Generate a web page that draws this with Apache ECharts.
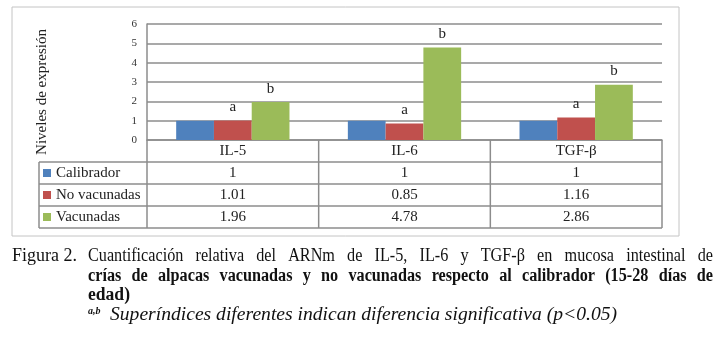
<!DOCTYPE html>
<html>
<head>
<meta charset="utf-8">
<script src="https://cdn.jsdelivr.net/npm/echarts@6/dist/echarts.min.js"></script>
<style>
  html, body { margin: 0; padding: 0; background: #fff; }
  #chart { width: 722px; height: 345px; }
</style>
</head>
<body>
<div id="chart"></div>
<script>
// datos
const categories = ['IL-5', 'IL-6', 'TGF-β']
const seriesNames = ['Calibrador', 'No vacunadas', 'Vacunadas']
const calibrador = [1, 1, 1]
const noVacunadas = [1.01, 0.85, 1.16]
const vacunadas = [1.96, 4.78, 2.86]
const letrasNoVac = ['a', 'a', 'a']
const letrasVac = ['b', 'b', 'b']
const yMin = 0
const yMax = 6
const yStep = 1
const yTitle = 'Niveles de expresión'
const captionLabel = 'Figura 2.'
const captionLine1 = 'Cuantificación relativa del ARNm de IL-5, IL-6 y TGF-β en mucosa intestinal de'
const captionLine2 = 'crías de alpacas vacunadas y no vacunadas respecto al calibrador (15-28 días de'
const captionLine3 = 'edad)'
const noteSup = 'a,b'
const noteText = 'Superíndices diferentes indican diferencia significativa (p<0.05)'

// colores y medidas
const colors = ['#4F81BD', '#C0504D', '#9BBB59']
const lineColor = '#8c8c8c'
const serif = 'Liberation Serif'
const plot = { left: 147, right: 662, top: 24, bottom: 140 }
const tableLeft = 39
const rowH = 22
const W = 722
const H = 345

const chart = echarts.init(document.getElementById('chart'))

const allSeries = [calibrador, noVacunadas, vacunadas]
const letters = [null, letrasNoVac, letrasVac]

// medir texto para el pie de figura (la imagen original esta algo comprimida en horizontal)
const ctx = document.createElement('canvas').getContext('2d')
const squeeze = 0.9
function justify(text, x0, x1, y, font, fill) {
  const words = text.split(' ')
  ctx.font = font
  const widths = words.map(w => ctx.measureText(w).width * squeeze)
  const total = widths.reduce((a, b) => a + b, 0)
  const gap = words.length > 1 ? (x1 - x0 - total) / (words.length - 1) : 0
  let x = x0
  return words.map((w, i) => {
    const el = {
      type: 'text', x: x, y: y, scaleX: squeeze, silent: true,
      style: { text: w, font: font, fill: fill, textVerticalAlign: 'middle' }
    }
    x += widths[i] + gap
    return el
  })
}
// texto estirado/comprimido para ocupar de x0 a x1
function fitText(text, x0, x1, y, font, fill) {
  ctx.font = font
  const w = ctx.measureText(text).width
  return {
    type: 'text', x: x0, y: y, scaleX: (x1 - x0) / w, silent: true,
    style: { text: text, font: font, fill: fill, textVerticalAlign: 'middle' }
  }
}

function line(x1, y1, x2, y2, color, width) {
  return {
    type: 'line', silent: true,
    shape: { x1: x1, y1: y1, x2: x2, y2: y2 },
    style: { stroke: color || lineColor, lineWidth: width || 1.5 }
  }
}

const graphics = []
// marco exterior
graphics.push({
  type: 'rect', silent: true,
  shape: { x: 12, y: 7, width: 667, height: 229 },
  style: { fill: 'none', stroke: '#c4c4c4', lineWidth: 1 }
})

// tabla de datos
const colW = (plot.right - plot.left) / categories.length
const headBottom = plot.bottom + rowH
const tableBottom = headBottom + rowH * seriesNames.length
graphics.push(line(plot.left, plot.bottom, plot.left, tableBottom))
for (let i = 1; i <= categories.length; i++) {
  const x = plot.left + colW * i
  graphics.push(line(x, plot.bottom, x, tableBottom))
}
graphics.push(line(tableLeft, headBottom, tableLeft, tableBottom))
for (let r = 0; r <= seriesNames.length; r++) {
  const y = headBottom + rowH * r
  graphics.push(line(tableLeft, y, plot.right, y))
}
allSeries.forEach((vals, r) => {
  vals.forEach((v, c) => {
    graphics.push({
      type: 'text', silent: true,
      x: plot.left + colW * (c + 0.5),
      y: headBottom + rowH * (r + 0.5),
      style: {
        text: String(v), font: '15px "' + serif + '"', fill: '#222',
        textAlign: 'center', textVerticalAlign: 'middle'
      }
    })
  })
})

// titulo eje y
graphics.push({
  type: 'text', silent: true, x: 42, y: 92, rotation: Math.PI / 2,
  style: {
    text: yTitle, font: '15px "' + serif + '"', fill: '#222',
    textAlign: 'center', textVerticalAlign: 'middle'
  }
})

// pie de figura
const capFont = '18px "' + serif + '"'
const capBold = 'bold 18px "' + serif + '"'
const capItalic = 'italic 19px "' + serif + '"'
graphics.push(fitText(captionLabel, 12, 77, 256, capFont, '#111'))
graphics.push(...justify(captionLine1, 88, 713, 256, capFont, '#111'))
graphics.push(...justify(captionLine2, 88, 713, 276, capBold, '#111'))
graphics.push(fitText(captionLine3, 88, 130, 295, capBold, '#111'))
graphics.push({
  type: 'text', silent: true, x: 88, y: 311,
  style: { text: noteSup, font: 'italic bold 10px "' + serif + '"', fill: '#111', textVerticalAlign: 'middle' }
})
graphics.push(fitText(noteText, 110, 617, 315, capItalic, '#111'))

const option = {
  animation: false,
  textStyle: { fontFamily: serif },
  grid: {
    left: plot.left,
    right: W - plot.right,
    top: plot.top,
    bottom: H - plot.bottom,
    containLabel: false
  },
  legend: {
    orient: 'vertical',
    left: 43,
    top: 165,
    padding: 0,
    icon: 'rect',
    itemWidth: 8,
    itemHeight: 8,
    itemGap: 6,
    selectedMode: false,
    data: seriesNames,
    textStyle: { fontSize: 15, lineHeight: 16, color: '#222', fontFamily: serif }
  },
  xAxis: {
    type: 'category',
    data: categories,
    axisTick: { show: false },
    axisLine: { show: true, lineStyle: { color: lineColor, width: 1.5 } },
    axisLabel: { fontSize: 15, color: '#222', margin: 4, fontFamily: serif }
  },
  yAxis: {
    type: 'value',
    min: yMin,
    max: yMax,
    interval: yStep,
    axisLine: { show: true, lineStyle: { color: lineColor, width: 1.5 } },
    axisTick: { show: false },
    axisLabel: { fontSize: 11, color: '#333', margin: 10, fontFamily: serif },
    splitLine: { show: true, lineStyle: { color: lineColor, width: 1.5 } }
  },
  series: allSeries.map((vals, i) => ({
    name: seriesNames[i],
    type: 'bar',
    data: vals,
    barWidth: '22%',
    barGap: '0%',
    itemStyle: { color: colors[i] },
    label: {
      show: !!letters[i],
      position: 'top',
      distance: 6,
      fontSize: 15,
      color: '#222',
      fontFamily: serif,
      formatter: function(p) {
        return letters[i] ? letters[i][p.dataIndex] : ''
      }
    }
  })),
  graphic: graphics
}
chart.setOption(option)
</script>
</body>
</html>
